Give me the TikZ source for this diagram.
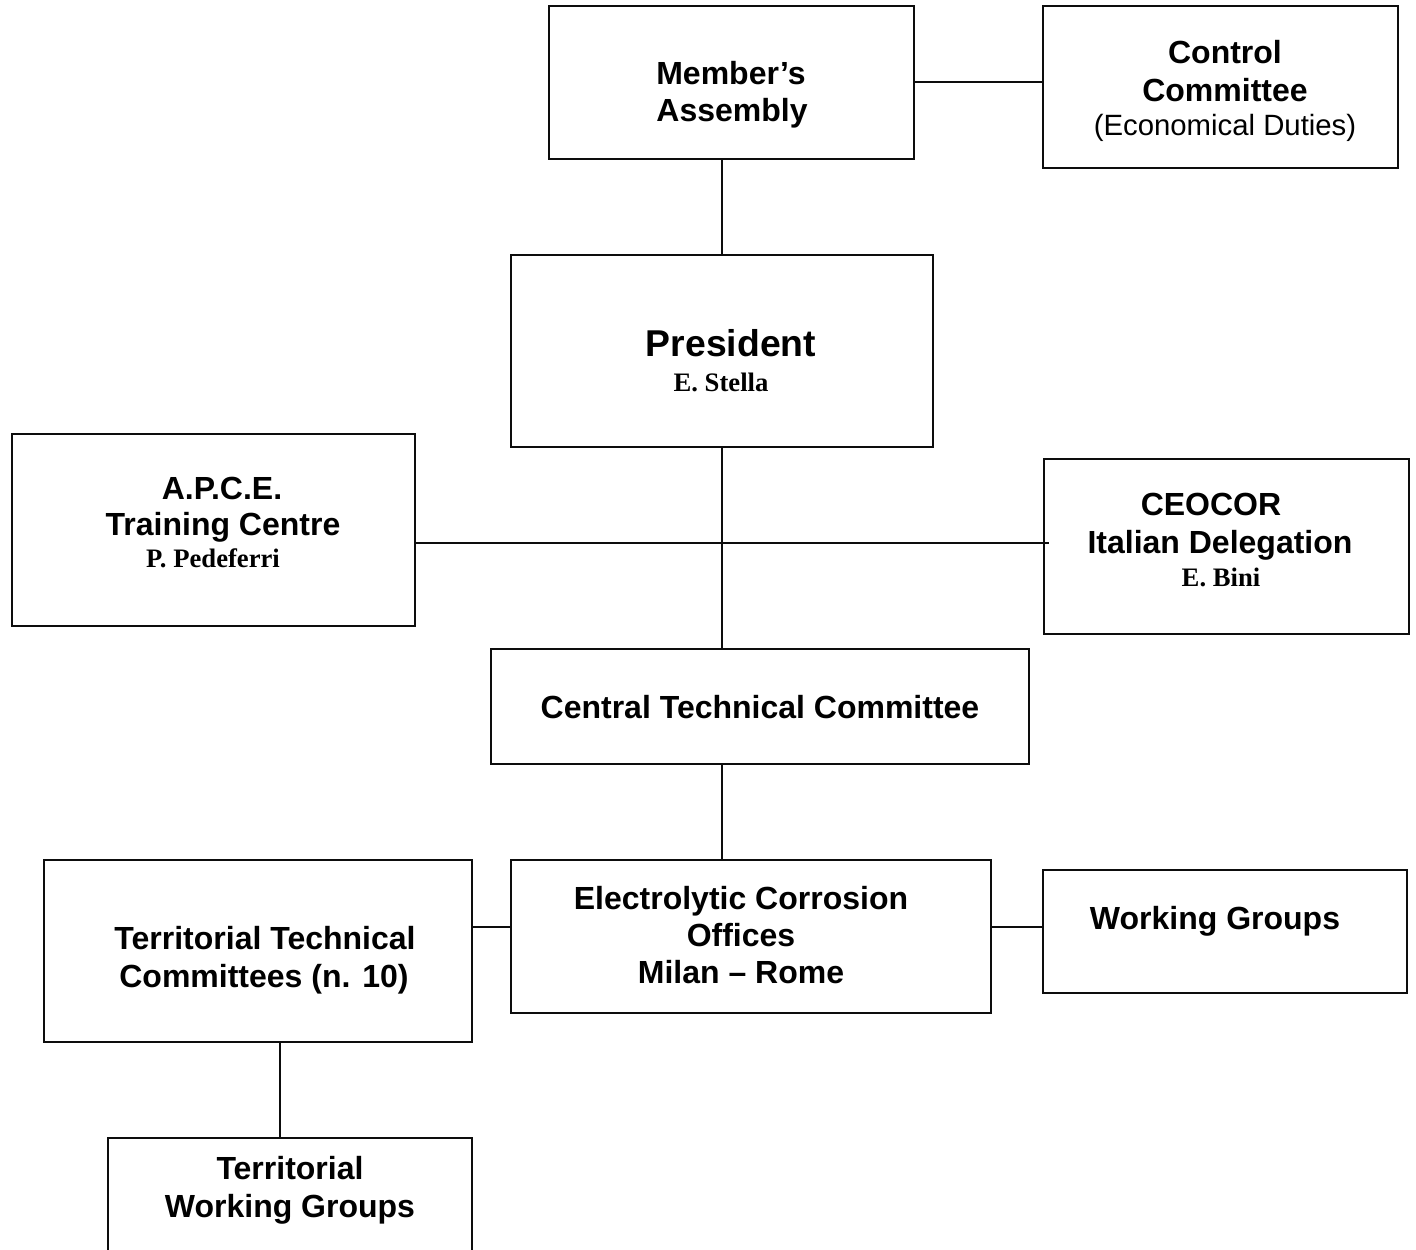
\documentclass[tikz,border=0pt]{standalone}
\usepackage{fontspec}
\setmainfont{Liberation Serif}
\setsansfont{Liberation Sans}
\usetikzlibrary{fit}

\begin{document}
\begin{tikzpicture}[x=0.375pt, y=-0.375pt,
  box/.style={draw=black!95, line width=0.75pt, inner sep=0pt},
  link/.style={draw=black!95, line width=0.7pt},
  head/.style={font=\sffamily\bfseries\fontsize{12}{14}\selectfont, anchor=base, inner sep=0pt},
  big/.style={font=\sffamily\bfseries\fontsize{14}{17}\selectfont, anchor=base, inner sep=0pt},
  note/.style={font=\sffamily\fontsize{11}{13}\selectfont, anchor=base, inner sep=0pt},
  who/.style={font=\rmfamily\bfseries\fontsize{10}{12}\selectfont, anchor=base, inner sep=0pt}]
\useasboundingbox (0,0) rectangle (1416,1249);
\clip (0,0) rectangle (1416,1249);
\fill [white] (0,0) rectangle (1416,1249);

\node [box, fit={(549,6) (914,159)}]     (assembly) {};
\node [head] (assembly-a) at (731,84)  {Member’s};
\node [head] (assembly-b) at (732,121) {Assembly};

\node [box, fit={(1043,6) (1398,168)}]   (control) {};
\node [head] (control-a) at (1225,63)  {Control};
\node [head] (control-b) at (1225,101) {Committee};
\node [note] (control-c) at (1225,135) {(Economical Duties)};

\node [box, fit={(511,255) (933,447)}]   (president) {};
\node [big]  (president-a) at (731,356) {President};
\node [who]  (president-b) at (721,391) {E. Stella};

\node [box, fit={(12,434) (415,626)}]    (apce) {};
\node [head] (apce-a) at (222,499) {A.P.C.E.};
\node [head] (apce-b) at (223,535) {Training Centre};
\node [who]  (apce-c) at (213,567) {P. Pedeferri};

\node [box, fit={(1044,459) (1409,634)}] (ceocor) {};
\node [head] (ceocor-a) at (1211,515) {CEOCOR};
\node [head] (ceocor-b) at (1220,553) {Italian Delegation};
\node [who]  (ceocor-c) at (1221,586) {E. Bini};

\node [box, fit={(491,649) (1029,764)}]  (central) {};
\node [head] (central-a) at (760,718) {Central Technical Committee};

\node [box, fit={(511,860) (991,1013)}]  (electro) {};
\node [head] (electro-a) at (741,909) {Electrolytic Corrosion};
\node [head] (electro-b) at (741,946) {Offices};
\node [head] (electro-c) at (741,983) {Milan – Rome};

\node [box, fit={(1043,870) (1407,993)}] (wg) {};
\node [head] (wg-a) at (1215,929) {Working Groups};

\node [box, fit={(44,860) (472,1042)}]   (ttc) {};
\node [head] (ttc-a) at (265,949) {Territorial Technical};
\node [head] (ttc-b) at (264,987) {Committees (n. 10)};

\node [box, fit={(108,1138) (472,1280)}] (twg) {};
\node [head] (twg-a) at (290,1179) {Territorial};
\node [head] (twg-b) at (290,1217) {Working Groups};

\coordinate (top)  at (0,82);
\coordinate (mid)  at (722,543);
\coordinate (over) at (1049,543);
\coordinate (low)  at (0,927);
\coordinate (side) at (280,0);

\draw [link] (top -| assembly.east) -- (top -| control.west);
\draw [link] (mid |- assembly.south) -- (mid |- president.north);
\draw [link] (mid |- president.south) -- (mid |- central.north);
\draw [link] (mid -| apce.east) -- (over);
\draw [link] (mid |- central.south) -- (mid |- electro.north);
\draw [link] (low -| ttc.east) -- (low -| electro.west);
\draw [link] (low -| electro.east) -- (low -| wg.west);
\draw [link] (side |- ttc.south) -- (side |- twg.north);
\end{tikzpicture}
\end{document}
